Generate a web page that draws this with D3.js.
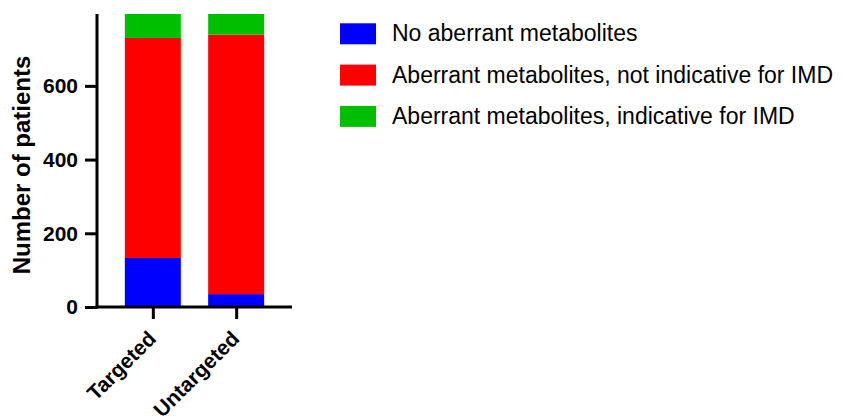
<!DOCTYPE html>
<html><head><meta charset="utf-8">
<script src="https://cdn.jsdelivr.net/npm/d3@7"></script>
<style>body{margin:0;background:#fff;} text{font-family:"Liberation Sans",Arial,sans-serif;}</style>
</head><body>
<svg id="c" width="842" height="419"></svg>
<script>
const categories = ["Targeted", "Untargeted"];
const seriesNames = ["No aberrant metabolites", "Aberrant metabolites, not indicative for IMD", "Aberrant metabolites, indicative for IMD"];
const noAberrant = [133, 35];
const notIndicative = [597, 704];
const indicative = [65, 56];
const yTicks = [0, 200, 400, 600];
const colors = ["#0000ff", "#ff0000", "#00bf00"];

const svg = d3.select("#c");
const x0 = 97, x1 = 292, yBottom = 307, yTop = 14;
const totals = categories.map((c,i)=>noAberrant[i]+notIndicative[i]+indicative[i]);
const yMax = d3.max(totals);
const y = d3.scaleLinear().domain([0, yMax]).range([yBottom, yTop]);
const x = d3.scalePoint().domain(categories).range([x0, x1]).padding(0.67);

const rows = categories.map((c,i)=>({cat:c, s0:noAberrant[i], s1:notIndicative[i], s2:indicative[i]}));
const stack = d3.stack().keys(["s0","s1","s2"])(rows);
const bw = 56;
stack.forEach((layer, li) => {
  svg.append("g").selectAll("rect").data(layer).enter().append("rect")
    .attr("x", d => x(d.data.cat) - bw/2)
    .attr("width", bw)
    .attr("y", d => y(d[1]))
    .attr("height", d => y(d[0]) - y(d[1]))
    .attr("fill", colors[li]);
});

// y axis
const yAxis = d3.axisLeft(y).tickValues(yTicks).tickSize(12).tickPadding(7);
const gy = svg.append("g").attr("transform", `translate(${x0},0)`).call(yAxis);
gy.select(".domain").attr("stroke","#000").attr("stroke-width",3).attr("d", `M0,${yTop}V${yBottom+1.5}`);
gy.selectAll(".tick line").attr("stroke","#000").attr("stroke-width",3);
gy.selectAll(".tick text").attr("font-size",21).attr("font-weight","bold").attr("fill","#000")
  .style("font-family","'Liberation Sans',Arial,sans-serif");

// x axis
const xAxis = d3.axisBottom(x).tickSize(12).tickSizeOuter(0).tickFormat(d=>d);
const gx = svg.append("g").attr("transform", `translate(0,${yBottom})`).call(xAxis);
gx.select(".domain").attr("stroke","#000").attr("stroke-width",3).attr("d", `M${x0-1.5},0H${x1}`);
gx.selectAll(".tick line").attr("stroke","#000").attr("stroke-width",3);
gx.selectAll(".tick text").attr("font-size",21).attr("font-weight","bold").attr("fill","#000")
  .style("font-family","'Liberation Sans',Arial,sans-serif")
  .attr("text-anchor","end").attr("dy",null).attr("y",0)
  .attr("transform","translate(4,33) rotate(-45)");

// y title
svg.append("text").attr("transform", `translate(30,165) rotate(-90)`)
  .attr("text-anchor","middle").attr("font-size",24).attr("font-weight","bold").text("Number of patients");

// legend
const lg = svg.append("g");
seriesNames.forEach((n,i)=>{
  const yy = 23.3 + i*41.3;
  lg.append("rect").attr("x",340).attr("y",yy).attr("width",36).attr("height",21).attr("fill",colors[i]);
  lg.append("text").attr("x",392).attr("y",yy+18).attr("font-size",23).attr("fill","#000").text(n);
});
</script>
</body></html>
